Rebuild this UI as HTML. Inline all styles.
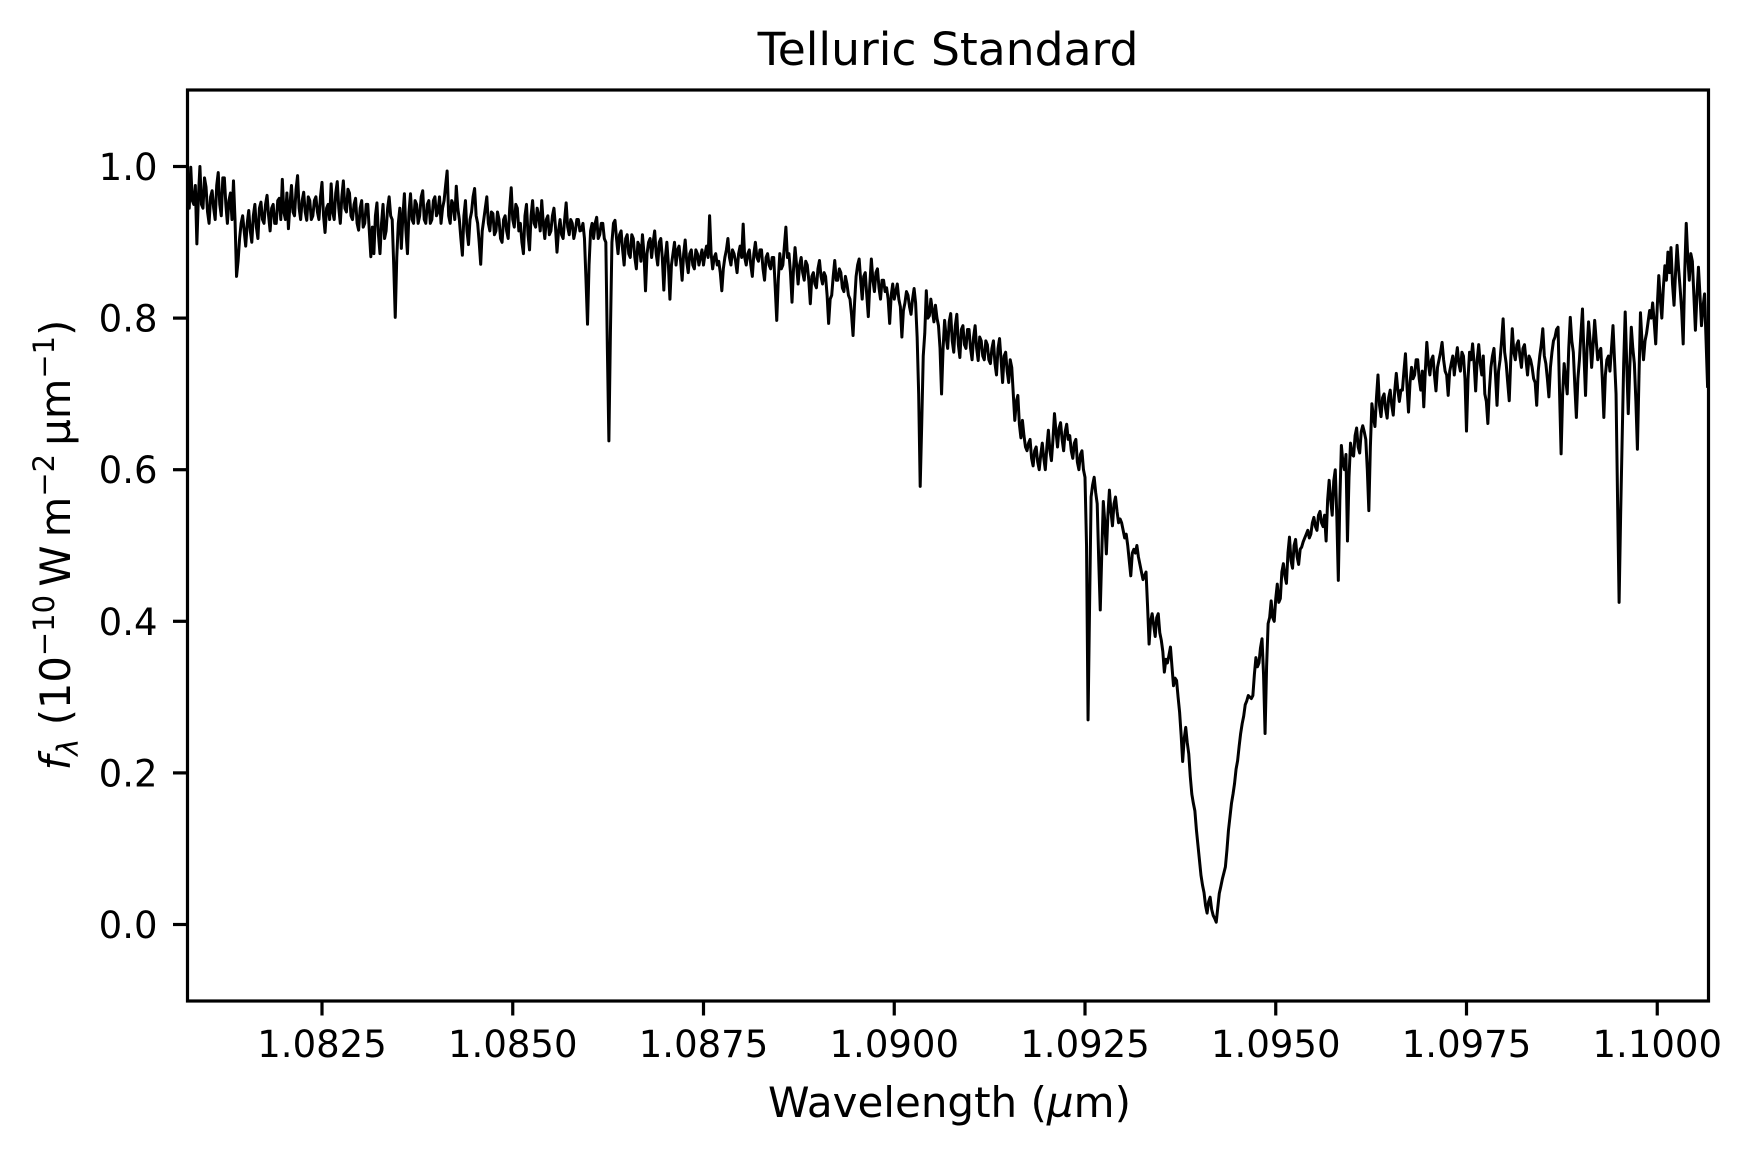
<!DOCTYPE html>
<html>
<head>
<meta charset="utf-8">
<title>Telluric Standard</title>
<style>
html,body{margin:0;padding:0;background:#fff;}
svg{display:block;}
text{font-family:"DejaVu Sans","Liberation Sans",sans-serif;fill:#000;}
</style>
</head>
<body>
<svg id="chart" xmlns="http://www.w3.org/2000/svg" width="1752" height="1158" viewBox="0 0 1752 1158">
<defs><clipPath id="plot-clip"><rect x="187.5" y="90" width="1521" height="911"/></clipPath></defs>
<rect x="0" y="0" width="1752" height="1158" fill="#fff"/>
<g id="series-layer" clip-path="url(#plot-clip)"></g>
<g id="tick-layer"></g>
<rect x="187.5" y="90" width="1521" height="911" fill="none" stroke="#000" stroke-width="3.2"/>
<text x="948" y="65" text-anchor="middle" font-size="45.6">Telluric Standard</text>
<text x="949.5" y="1117" text-anchor="middle" font-size="42">Wavelength (<tspan font-style="italic">µ</tspan>m)</text>
<text transform="translate(70,545) rotate(-90)" text-anchor="middle" font-size="41.6"><tspan font-style="italic">f</tspan><tspan font-style="italic" font-size="29" dy="8">λ</tspan><tspan dy="-8"> (10</tspan><tspan font-size="29" dy="-16">−10</tspan><tspan dy="16">&#8201;W&#8201;m</tspan><tspan font-size="29" dy="-16">−2</tspan><tspan dy="16">&#8201;µm</tspan><tspan font-size="29" dy="-16">−1</tspan><tspan dy="16">)</tspan></text>
</svg>
<script>
const xTickValues = [1.0825, 1.0850, 1.0875, 1.0900, 1.0925, 1.0950, 1.0975, 1.1000];
const xTickLabels = ["1.0825", "1.0850", "1.0875", "1.0900", "1.0925", "1.0950", "1.0975", "1.1000"];
const yTickValues = [0.0, 0.2, 0.4, 0.6, 0.8, 1.0];
const yTickLabels = ["0.0", "0.2", "0.4", "0.6", "0.8", "1.0"];
const wavelengthStart = 1.08074;
const wavelengthStep = 0.00002;
const fluxValues = [
.965,.945,.999,.955,.950,.975,.898,.960,1.000,.950,.945,.985,.973,.940,.925,.960,.968,.945,.930,.975,.992,.950,.935,.985,.985,.950,.925,.955,.965,.930,.981,.930,.855,.875,.905,.925,.935,.915,.895,.925,
.942,.915,.900,.935,.950,.920,.905,.945,.953,.930,.925,.950,.962,.935,.915,.945,.950,.925,.925,.955,.958,.930,.983,.940,.930,.965,.918,.950,.975,.940,.935,.970,.988,.945,.930,.955,.966,.940,.929,.960,
.955,.930,.935,.955,.960,.940,.930,.960,.979,.935,.913,.945,.950,.930,.977,.940,.930,.965,.980,.945,.925,.960,.981,.945,.940,.970,.965,.935,.930,.950,.958,.925,.916,.945,.955,.920,.925,.950,.950,.915,
.881,.920,.885,.935,.952,.910,.885,.925,.950,.905,.915,.945,.960,.935,.930,.870,.801,.880,.925,.945,.892,.935,.964,.915,.885,.940,.964,.930,.925,.955,.950,.925,.935,.960,.968,.930,.925,.950,.955,.925,
.930,.955,.960,.935,.940,.960,.925,.945,.955,.975,.994,.935,.925,.955,.950,.930,.974,.945,.930,.905,.883,.935,.955,.915,.897,.930,.940,.960,.971,.935,.925,.900,.871,.915,.930,.945,.960,.925,.915,.940,
.938,.910,.915,.940,.930,.905,.900,.930,.935,.915,.905,.945,.972,.930,.920,.950,.945,.915,.925,.900,.885,.935,.950,.910,.890,.935,.955,.925,.920,.945,.935,.915,.955,.925,.905,.930,.935,.910,.915,.935,
.945,.920,.887,.915,.930,.910,.905,.930,.952,.920,.910,.930,.925,.905,.915,.930,.930,.915,.916,.925,.905,.850,.792,.870,.915,.925,.905,.925,.933,.905,.910,.925,.925,.905,.900,.760,.638,.780,.900,.925,
.929,.905,.885,.910,.915,.890,.870,.905,.910,.885,.880,.910,.905,.880,.865,.900,.895,.875,.910,.885,.836,.885,.900,.905,.880,.900,.915,.885,.870,.900,.905,.880,.837,.880,.900,.870,.825,.870,.885,.900,
.870,.890,.895,.875,.850,.885,.903,.875,.860,.885,.890,.870,.865,.890,.885,.870,.880,.890,.870,.885,.895,.880,.935,.885,.865,.880,.885,.870,.875,.860,.836,.865,.880,.890,.905,.880,.870,.890,.885,.875,
.860,.885,.895,.880,.924,.880,.870,.885,.890,.870,.855,.885,.900,.880,.875,.890,.890,.865,.850,.880,.885,.870,.865,.880,.880,.840,.797,.850,.885,.865,.870,.895,.920,.880,.885,.860,.821,.865,.893,.870,
.845,.870,.880,.860,.850,.875,.870,.850,.819,.855,.860,.845,.840,.865,.876,.855,.845,.860,.855,.830,.793,.825,.830,.855,.876,.850,.850,.865,.860,.840,.835,.855,.845,.830,.825,.805,.777,.820,.855,.870,
.878,.850,.825,.855,.860,.830,.802,.845,.878,.850,.835,.860,.865,.840,.825,.850,.850,.835,.840,.825,.793,.830,.845,.825,.835,.845,.825,.815,.775,.810,.820,.835,.830,.815,.805,.825,.839,.820,.775,.700,
.578,.660,.750,.780,.836,.800,.803,.825,.810,.795,.817,.800,.790,.760,.700,.760,.797,.775,.760,.795,.806,.770,.755,.790,.805,.765,.748,.785,.790,.765,.760,.785,.785,.760,.745,.775,.790,.760,.744,.775,
.770,.750,.745,.770,.765,.745,.740,.760,.770,.740,.725,.760,.773,.745,.715,.750,.755,.730,.715,.745,.735,.700,.665,.690,.698,.660,.642,.665,.645,.630,.625,.635,.640,.615,.605,.625,.630,.610,.600,.620,
.635,.615,.600,.630,.652,.625,.612,.640,.674,.650,.630,.655,.662,.640,.625,.650,.660,.640,.645,.625,.615,.635,.640,.610,.600,.620,.625,.600,.590,.500,.270,.420,.564,.580,.590,.570,.555,.480,.415,.490,
.558,.530,.489,.540,.573,.545,.526,.555,.564,.545,.530,.535,.530,.520,.510,.515,.500,.480,.460,.490,.495,.490,.500,.485,.475,.465,.455,.460,.465,.420,.370,.400,.410,.395,.380,.405,.410,.385,.375,.360,
.333,.350,.345,.355,.366,.340,.315,.325,.322,.300,.280,.250,.215,.245,.260,.240,.225,.195,.172,.160,.150,.125,.105,.085,.065,.052,.042,.025,.015,.030,.036,.020,.012,.008,.003,.022,.041,.050,.060,.068,
.076,.098,.124,.142,.160,.172,.186,.205,.216,.235,.252,.265,.275,.290,.295,.302,.300,.298,.302,.330,.352,.340,.345,.365,.377,.330,.252,.340,.397,.405,.427,.405,.400,.430,.449,.425,.430,.465,.476,.460,
.450,.490,.511,.480,.470,.500,.508,.485,.475,.495,.498,.505,.510,.515,.520,.510,.515,.530,.537,.525,.520,.540,.545,.530,.525,.540,.506,.560,.586,.560,.540,.585,.600,.540,.454,.560,.632,.610,.600,.620,
.506,.590,.635,.620,.618,.645,.655,.630,.622,.650,.658,.650,.640,.600,.546,.630,.687,.670,.657,.695,.725,.685,.670,.695,.700,.680,.668,.695,.705,.685,.672,.705,.727,.705,.690,.705,.705,.730,.753,.710,
.676,.715,.735,.720,.725,.745,.745,.720,.705,.730,.683,.730,.768,.740,.725,.745,.750,.725,.704,.735,.745,.755,.768,.745,.730,.725,.698,.730,.740,.750,.725,.745,.761,.740,.730,.755,.750,.720,.651,.720,
.755,.745,.766,.740,.704,.745,.765,.740,.725,.750,.700,.690,.661,.705,.735,.750,.760,.725,.685,.730,.745,.770,.799,.755,.740,.715,.691,.745,.786,.755,.745,.765,.770,.750,.735,.760,.765,.745,.725,.750,
.745,.735,.720,.715,.685,.730,.750,.765,.786,.750,.740,.720,.696,.735,.755,.770,.775,.785,.788,.700,.621,.700,.740,.720,.700,.760,.801,.770,.755,.710,.669,.720,.745,.780,.812,.750,.698,.760,.795,.770,
.735,.765,.797,.770,.745,.755,.760,.720,.669,.725,.745,.750,.730,.760,.790,.745,.700,.560,.425,.540,.640,.740,.808,.740,.674,.735,.788,.760,.740,.690,.627,.720,.807,.770,.745,.770,.780,.795,.810,.800,
.820,.795,.766,.815,.856,.825,.800,.840,.869,.850,.887,.860,.893,.845,.817,.860,.896,.865,.839,.810,.766,.860,.925,.880,.850,.885,.875,.830,.784,.830,.867,.830,.790,.815,.832,.770,.708
];

const SVG_NS = "http://www.w3.org/2000/svg";
function xScale(w) { return 322 + (w - 1.0825) * 76300; }
function yScale(v) { return 924.5 - v * 758; }

const seriesLayer = document.getElementById("series-layer");
const tickLayer = document.getElementById("tick-layer");

const points = fluxValues.map(function (v, i) {
  const w = wavelengthStart + i * wavelengthStep;
  return xScale(w).toFixed(2) + "," + yScale(v).toFixed(2);
}).join(" ");
const spectrum = document.createElementNS(SVG_NS, "polyline");


spectrum.setAttribute("points", points);
spectrum.setAttribute("fill", "none");
spectrum.setAttribute("stroke", "#000");
spectrum.setAttribute("stroke-width", "3");
spectrum.setAttribute("stroke-linejoin", "round");
seriesLayer.appendChild(spectrum);

xTickValues.forEach(function (value, i) {
  const px = xScale(value);
  const mark = document.createElementNS(SVG_NS, "line");
  
  
  mark.setAttribute("x1", px);
  mark.setAttribute("x2", px);
  mark.setAttribute("y1", 1001);
  mark.setAttribute("y2", 1015.5);
  mark.setAttribute("stroke", "#000");
  mark.setAttribute("stroke-width", "3.2");
  tickLayer.appendChild(mark);
  const label = document.createElementNS(SVG_NS, "text");
  
  
  label.setAttribute("x", px);
  label.setAttribute("y", 1057);
  label.setAttribute("text-anchor", "middle");
  label.setAttribute("font-size", "37");
  label.textContent = xTickLabels[i];
  tickLayer.appendChild(label);
});

yTickValues.forEach(function (value, i) {
  const py = yScale(value);
  const mark = document.createElementNS(SVG_NS, "line");
  
  
  mark.setAttribute("x1", 173);
  mark.setAttribute("x2", 187.5);
  mark.setAttribute("y1", py);
  mark.setAttribute("y2", py);
  mark.setAttribute("stroke", "#000");
  mark.setAttribute("stroke-width", "3.2");
  tickLayer.appendChild(mark);
  const label = document.createElementNS(SVG_NS, "text");
  
  
  label.setAttribute("x", 157.5);
  label.setAttribute("y", py + 13.5);
  label.setAttribute("text-anchor", "end");
  label.setAttribute("font-size", "37");
  label.textContent = yTickLabels[i];
  tickLayer.appendChild(label);
});
</script>
</body>
</html>
